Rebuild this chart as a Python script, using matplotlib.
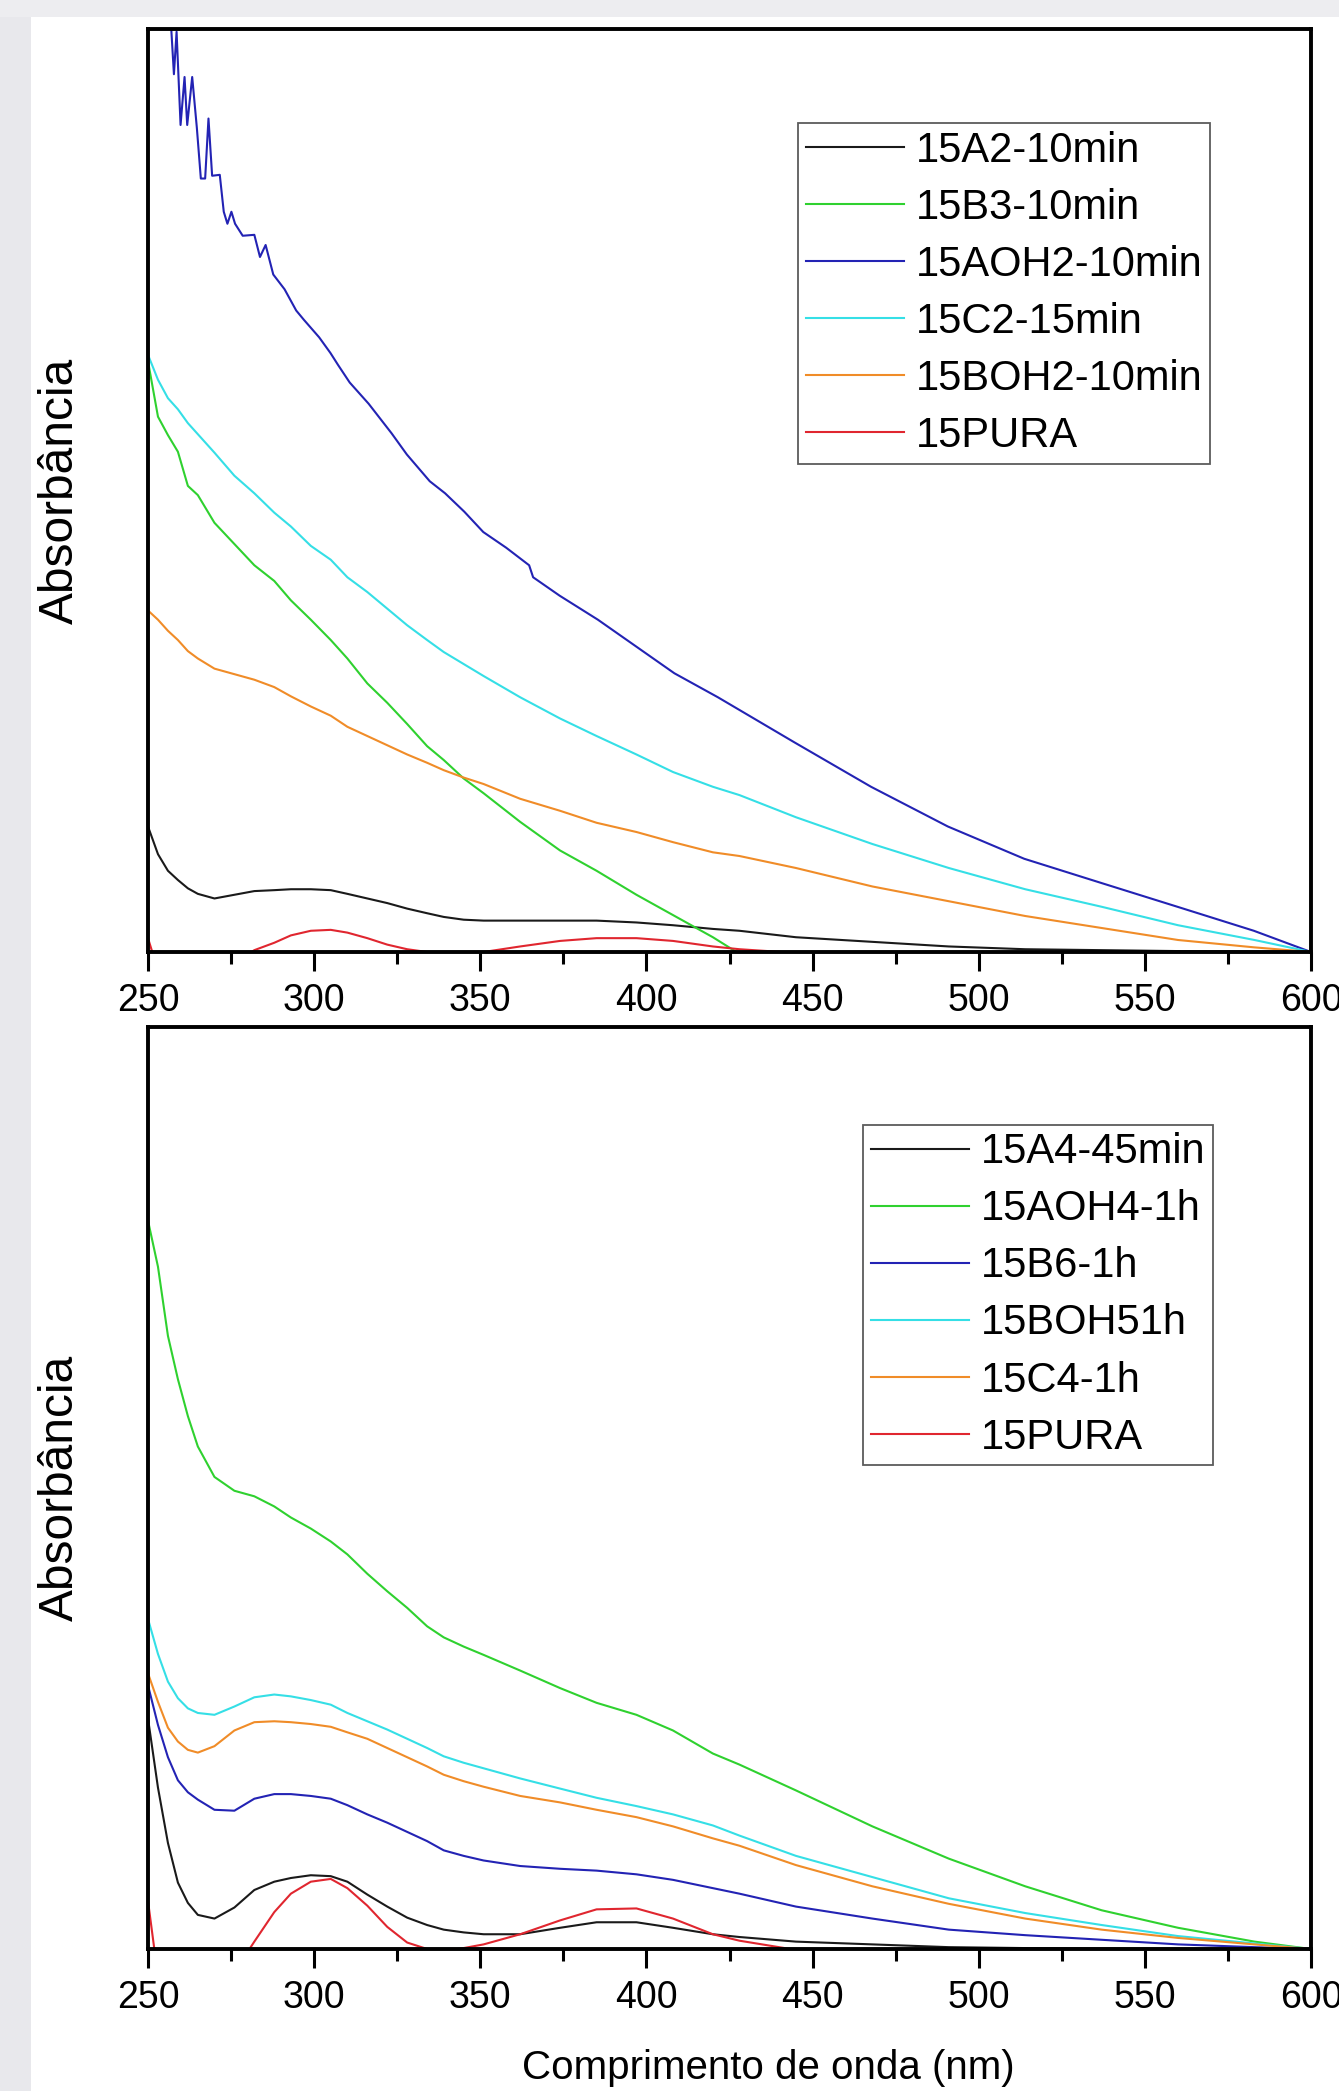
import numpy as np
import matplotlib
matplotlib.use("Agg")
import matplotlib.pyplot as plt
from matplotlib.patches import Rectangle
from matplotlib.ticker import MultipleLocator

plt.rcParams['font.family'] = ['Liberation Sans', 'DejaVu Sans']

# comprimento de onda (nm)
wl = [250, 253, 256, 259, 262, 265, 270, 276, 282, 288, 293, 299, 305, 310, 316, 322,
      328, 334, 339, 345, 351, 362, 374, 385, 397, 408, 420, 428, 445, 468, 491, 514,
      537, 560, 583, 600]

# ---- painel superior (absorbancia, u.a.) ----
a2_10min = [0.136, 0.106, 0.088, 0.078, 0.069, 0.063, 0.058, 0.062, 0.066, 0.067, 0.068, 0.068,
            0.067, 0.063, 0.058, 0.053, 0.047, 0.042, 0.038, 0.035, 0.034, 0.034, 0.034, 0.034,
            0.032, 0.029, 0.025, 0.023, 0.016, 0.011, 0.006, 0.003, 0.002, 0.001, 0.0005, 0.0]
b3_10min = [0.640, 0.580, 0.560, 0.542, 0.505, 0.495, 0.465, 0.442, 0.419, 0.402, 0.381, 0.360,
            0.338, 0.318, 0.291, 0.270, 0.247, 0.223, 0.208, 0.188, 0.172, 0.141, 0.110, 0.088,
            0.062, 0.040, 0.016, -0.002, -0.010, -0.010, -0.010, -0.010, -0.010, -0.008, -0.004, 0.0]
c2_15min = [0.647, 0.620, 0.600, 0.588, 0.573, 0.561, 0.541, 0.516, 0.497, 0.476, 0.461, 0.440,
            0.425, 0.406, 0.390, 0.372, 0.354, 0.338, 0.325, 0.312, 0.299, 0.276, 0.253, 0.234,
            0.214, 0.195, 0.179, 0.170, 0.146, 0.117, 0.091, 0.068, 0.049, 0.029, 0.013, 0.0]
boh2_10min = [0.370, 0.360, 0.348, 0.338, 0.326, 0.318, 0.307, 0.301, 0.295, 0.287, 0.277, 0.266,
              0.256, 0.244, 0.234, 0.224, 0.214, 0.205, 0.197, 0.189, 0.182, 0.166, 0.153, 0.140,
              0.130, 0.119, 0.108, 0.104, 0.091, 0.071, 0.055, 0.039, 0.026, 0.013, 0.005, 0.0]
pura_top = [0.015, -0.020, -0.040, -0.050, -0.050, -0.045, -0.030, -0.012, 0.002, 0.010, 0.018, 0.023,
            0.024, 0.021, 0.015, 0.008, 0.003, 0.0, -0.002, -0.002, 0.0, 0.006, 0.012, 0.015,
            0.015, 0.012, 0.006, 0.003, -0.001, -0.003, -0.004, -0.004, -0.003, -0.002, -0.001, 0.0]

# 15AOH2-10min tem muito ruido, lido ponto a ponto
wl_aoh2 = [250, 257.0, 257.8, 258.6, 259.8, 261.0, 261.8, 263.3, 264.7, 265.9, 267.2, 268.2,
           269.3, 271.6, 272.8, 273.9, 275.1, 276.2, 278.5, 282.0, 283.7, 285.4, 287.7, 291.1,
           294.6, 296.9, 301.5, 304.9, 307.2, 310.7, 316.4, 323.3, 327.9, 334.8, 339.4, 345.2,
           350.9, 357.8, 364.7, 365.9, 373.9, 385.4, 396.9, 408.4, 421.5, 444.6, 467.6, 490.7,
           513.7, 536.7, 559.8, 582.8, 600]
aoh2_10min = [1.25, 1.0, 0.951, 0.997, 0.896, 0.948, 0.896, 0.948, 0.893, 0.838, 0.838, 0.903,
              0.841, 0.842, 0.802, 0.789, 0.802, 0.789, 0.776, 0.777, 0.753, 0.766, 0.734, 0.718,
              0.695, 0.685, 0.666, 0.649, 0.636, 0.617, 0.594, 0.562, 0.539, 0.510, 0.497, 0.477,
              0.455, 0.438, 0.419, 0.406, 0.386, 0.360, 0.331, 0.302, 0.276, 0.227, 0.179, 0.136,
              0.101, 0.075, 0.049, 0.023, 0.0]

# ---- painel inferior ----
a4_45min = [0.250, 0.175, 0.115, 0.072, 0.050, 0.037, 0.033, 0.045, 0.064, 0.073, 0.077, 0.080,
            0.079, 0.073, 0.059, 0.046, 0.034, 0.026, 0.021, 0.018, 0.016, 0.016, 0.023, 0.029,
            0.029, 0.023, 0.016, 0.013, 0.008, 0.005, 0.002, 0.001, 0.0005, 0.0003, 0.0001, 0.0]
aoh4_1h = [0.790, 0.740, 0.665, 0.618, 0.578, 0.545, 0.512, 0.497, 0.491, 0.480, 0.468, 0.456,
           0.442, 0.428, 0.407, 0.388, 0.370, 0.350, 0.338, 0.328, 0.319, 0.302, 0.283, 0.267,
           0.254, 0.237, 0.212, 0.200, 0.172, 0.133, 0.098, 0.068, 0.042, 0.023, 0.008, 0.0]
b6_1h = [0.286, 0.243, 0.208, 0.183, 0.170, 0.162, 0.151, 0.150, 0.163, 0.168, 0.168, 0.166,
         0.163, 0.156, 0.146, 0.137, 0.127, 0.117, 0.107, 0.101, 0.096, 0.090, 0.087, 0.085,
         0.081, 0.075, 0.066, 0.060, 0.046, 0.033, 0.021, 0.015, 0.010, 0.005, 0.002, 0.0]
boh5_1h = [0.358, 0.320, 0.290, 0.272, 0.261, 0.256, 0.254, 0.263, 0.273, 0.276, 0.274, 0.270,
           0.265, 0.256, 0.247, 0.238, 0.228, 0.218, 0.209, 0.202, 0.196, 0.185, 0.174, 0.164,
           0.155, 0.146, 0.134, 0.123, 0.101, 0.078, 0.055, 0.039, 0.026, 0.014, 0.006, 0.0]
c4_1h = [0.299, 0.268, 0.240, 0.225, 0.216, 0.213, 0.220, 0.237, 0.246, 0.247, 0.246, 0.244,
         0.241, 0.235, 0.228, 0.218, 0.208, 0.198, 0.189, 0.182, 0.176, 0.166, 0.159, 0.151,
         0.143, 0.133, 0.120, 0.112, 0.091, 0.068, 0.049, 0.033, 0.021, 0.012, 0.005, 0.0]
pura_bot = [0.052, -0.030, -0.060, -0.080, -0.090, -0.080, -0.060, -0.025, 0.008, 0.040, 0.060, 0.073,
            0.076, 0.066, 0.047, 0.024, 0.007, 0.0, -0.002, 0.001, 0.005, 0.016, 0.031, 0.043,
            0.044, 0.033, 0.016, 0.009, -0.001, -0.005, -0.006, -0.006, -0.005, -0.003, -0.001, 0.0]

cores = {'preto': '#1a1a1a', 'verde': '#2fd12f', 'azul': '#2323b4',
         'ciano': '#35dfe6', 'laranja': '#f08c28', 'vermelho': '#e0262f'}

top_series = [(wl, a2_10min, '15A2-10min', 'preto'),
              (wl, b3_10min, '15B3-10min', 'verde'),
              (wl_aoh2, aoh2_10min, '15AOH2-10min', 'azul'),
              (wl, c2_15min, '15C2-15min', 'ciano'),
              (wl, boh2_10min, '15BOH2-10min', 'laranja'),
              (wl, pura_top, '15PURA', 'vermelho')]
bot_series = [(wl, a4_45min, '15A4-45min', 'preto'),
              (wl, aoh4_1h, '15AOH4-1h', 'verde'),
              (wl, b6_1h, '15B6-1h', 'azul'),
              (wl, boh5_1h, '15BOH51h', 'ciano'),
              (wl, c4_1h, '15C4-1h', 'laranja'),
              (wl, pura_bot, '15PURA', 'vermelho')]

W, H = 1339, 2091
fig = plt.figure(figsize=(W / 100, H / 100), dpi=100)
fig.patch.set_facecolor('white')

# faixas cinza do fundo (slide)
fig.add_artist(Rectangle((0, 0), 31 / W, 1, transform=fig.transFigure,
                         facecolor='#e8e8ec', edgecolor='none', zorder=0))
fig.add_artist(Rectangle((0, 1 - 17 / H), 1, 17 / H, transform=fig.transFigure,
                         facecolor='#ededf0', edgecolor='none', zorder=0))

left, right = 148 / W, 1311 / W
ax1 = fig.add_axes([left, 1 - 952 / H, right - left, (952 - 29) / H])
ax2 = fig.add_axes([left, 1 - 1949 / H, right - left, (1949 - 1027) / H])

for ax, series, leg_xy in [(ax1, top_series, (0.559, 0.898)), (ax2, bot_series, (0.615, 0.894))]:
    for x, y, nome, cor in series:
        ax.plot(x, y, color=cores[cor], lw=1.5, label=nome)
    ax.set_xlim(250, 600)
    ax.set_ylim(0, 1)
    ax.xaxis.set_major_locator(MultipleLocator(50))
    ax.xaxis.set_minor_locator(MultipleLocator(25))
    ax.tick_params(axis='x', which='major', direction='out', length=14, width=2.2,
                   labelsize=27, pad=8)
    ax.tick_params(axis='x', which='minor', direction='out', length=8.5, width=2.2)
    ax.tick_params(axis='y', which='both', left=False, labelleft=False)
    for sp in ax.spines.values():
        sp.set_linewidth(2.8)
    ax.set_ylabel('Absorbância', fontsize=34.5)
    ax.yaxis.label.set_va('center')
    ax.yaxis.set_label_coords(-0.075, 0.5)
    leg = ax.legend(loc='upper left', bbox_to_anchor=leg_xy, fontsize=30, frameon=True,
                    fancybox=False, borderpad=0.18, handlelength=2.35, handletextpad=0.3,
                    labelspacing=0.41, borderaxespad=0)
    leg.get_frame().set_edgecolor('#333333')
    leg.get_frame().set_linewidth(1.3)
    for h in leg.get_lines():
        h.set_linewidth(1.5)

ax2.set_xlabel('Comprimento de onda (nm)', fontsize=29)
ax2.xaxis.set_label_coords(0.533, -0.129)
ax2.xaxis.label.set_va('center')

fig.savefig('out.png', dpi=100, facecolor=fig.get_facecolor())
plt.close()
